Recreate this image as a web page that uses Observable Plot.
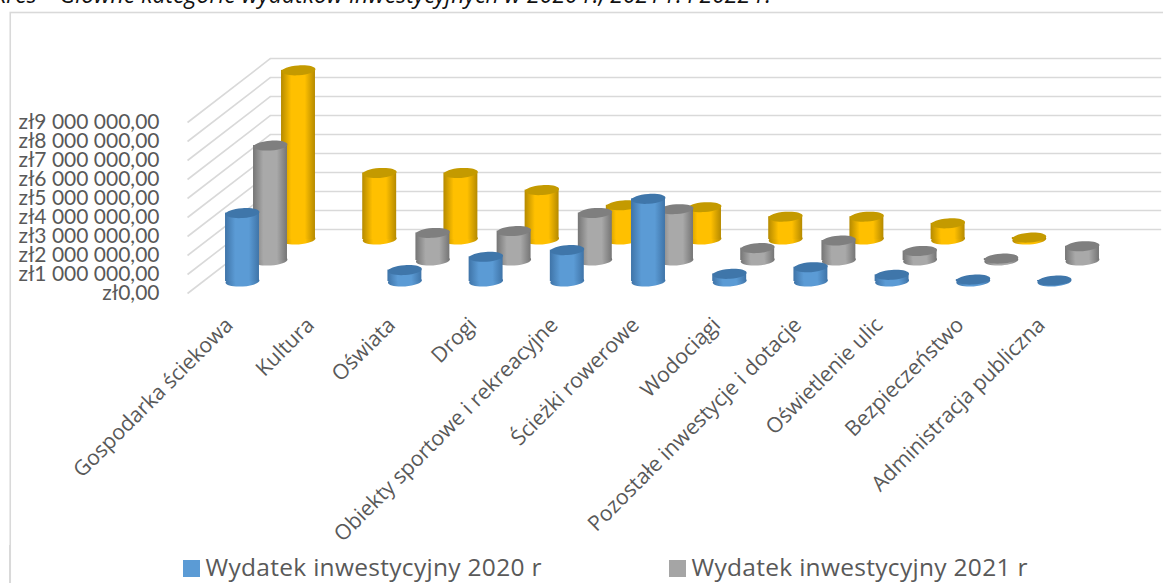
<!DOCTYPE html>
<html lang="pl"><head><meta charset="utf-8">
<script src="https://cdn.jsdelivr.net/npm/d3@7"></script>
<script src="https://cdn.jsdelivr.net/npm/@observablehq/plot@0.6"></script>
<style>
html,body{margin:0;padding:0;background:#fff;overflow:hidden;width:1163px;height:583px}
#title{position:relative;height:12px;overflow:hidden;width:1163px}
#title span{position:absolute;right:392px;top:-21px;line-height:30px;white-space:nowrap;font-family:"Open Sans",sans-serif;font-style:italic;font-size:23px;color:#111}
#chart svg{display:block}
#legend{position:relative;height:38px;margin-left:9px;border-left:1.5px solid #d9d9d9;font:24.5px "Open Sans",sans-serif;letter-spacing:.3px;color:#595959;overflow:hidden}
#legend i{position:absolute;top:15px;width:17px;height:17px}
#legend span{position:absolute;top:5px;white-space:nowrap}
</style></head><body>
<div id="title"><span>Wykres – Główne kategorie wydatków inwestycyjnych w 2020 r., 2021 r. i 2022 r.</span></div>
<div id="chart"></div>
<div id="legend"></div>
<script>
const categories = ["Gospodarka ściekowa","Kultura","Oświata","Drogi","Obiekty sportowe i rekreacyjne","Ścieżki rowerowe","Wodociągi","Pozostałe inwestycje i dotacje","Oświetlenie ulic","Bezpieczeństwo","Administracja publiczna"];
const wydatek2020 = [3600000,null,600000,1300000,1650000,4350000,400000,750000,350000,100000,50000];
const wydatek2021 = [6050000,null,1450000,1550000,2500000,2700000,650000,1050000,500000,100000,750000];
const wydatek2022 = [8900000,3500000,3500000,2600000,1800000,1700000,1200000,1200000,850000,100000,null];
const tickValues = [0,1e6,2e6,3e6,4e6,5e6,6e6,7e6,8e6,9e6];
const seriesNames = ["Wydatek inwestycyjny 2020 r","Wydatek inwestycyjny 2021 r","Wydatek inwestycyjny 2022 r"];

const fmt = d3.formatLocale({decimal:",",thousands:" ",grouping:[3],currency:["zł",""]}).format("$,.2f");

const rows = (vals) => vals.flatMap((v,i)=> v==null ? [] : [{i,v}]);

// styles of the three series: horizontal shift/lift in depth, gradient and lid colour
const styleOf = [
  {id:"g0",edge:"#3f74a8",mid:"#5b9bd5",lid:"#3f76aa",dx:0, dy:-12},
  {id:"g1",edge:"#757575",mid:"#a9a9a9",lid:"#7f7f7f",dx:28,dy:-33},
  {id:"g2",edge:"#b58a00",mid:"#ffc000",lid:"#c49a00",dx:56,dy:-54}
];

const defs = () => {
  const g = document.createElementNS("http://www.w3.org/2000/svg","g");
  g.innerHTML = "<defs>"+styleOf.map(s=>`<linearGradient id="${s.id}" x1="0" x2="1" y1="0" y2="0">
    <stop offset="0" stop-color="${s.edge}"/><stop offset=".3" stop-color="${s.mid}"/>
    <stop offset=".7" stop-color="${s.mid}"/><stop offset="1" stop-color="${s.edge}"/></linearGradient>`).join("")+"</defs>";
  return g;
};

// flattened ellipse, drawn as a dot symbol
const lens = {draw(ctx,size){
  const a=Math.sqrt(size/Math.PI), b=a*0.29, k=0.5523;
  ctx.moveTo(-a,0);
  ctx.bezierCurveTo(-a,-k*b,-k*a,-b,0,-b);
  ctx.bezierCurveTo(k*a,-b,a,-k*b,a,0);
  ctx.bezierCurveTo(a,k*b,k*a,b,0,b);
  ctx.bezierCurveTo(-k*a,b,-a,k*b,-a,0);
  ctx.closePath();
}};

const halfWidth = 0.209, radius = 17, tilt = -4;
const cylinder = (vals,s) => {
  const d = rows(vals);
  return [
    Plot.dot(d,{x:"i",y:()=>0,r:radius,symbol:lens,rotate:tilt,fill:`url(#${s.id})`,dx:s.dx,dy:s.dy}),
    Plot.rect(d,{x1:r=>r.i-halfWidth,x2:r=>r.i+halfWidth,y1:()=>0,y2:"v",fill:`url(#${s.id})`,dx:s.dx,dy:s.dy}),
    Plot.dot(d,{x:"i",y:"v",r:radius,symbol:lens,rotate:tilt,fill:s.lid,dx:s.dx,dy:s.dy})
  ];
};

const wallFront=-0.677, wallBack=0.345, wallRight=11.32, depth=3.37e6;
const gridStyle={stroke:"#d9d9d9",strokeWidth:1.6};

const chart = Plot.plot({
  width:1163, height:533, marginLeft:165, marginTop:0, marginRight:0, marginBottom:0,
  style:{background:"#fff",overflow:"visible"},
  x:{domain:[0,10],range:[242,1054],axis:null},
  y:{domain:[0,9e6],range:[281,110]},
  marks:[
    defs,
    Plot.frame({stroke:"#d9d9d9",strokeWidth:1.6,insetLeft:-155.25,insetTop:0,insetRight:-10,insetBottom:-60}),
    Plot.link(tickValues,{x1:()=>wallFront,x2:()=>wallBack,y1:d=>d,y2:d=>d+depth,...gridStyle}),
    Plot.ruleY(tickValues,{y:d=>d+depth,x1:()=>wallBack,x2:()=>wallRight,...gridStyle}),
    Plot.axisY({ticks:tickValues,tickFormat:fmt,tickSize:0,tickPadding:6,label:null,
      fontSize:21,fontFamily:"Lato, sans-serif",fill:"#595959",style:{letterSpacing:".9px"}}),
    ...cylinder(wydatek2022,styleOf[2]),
    ...cylinder(wydatek2021,styleOf[1]),
    ...cylinder(wydatek2020,styleOf[0]),
    Plot.text(categories,{x:(d,i)=>i,y:()=>0,text:d=>d,rotate:-45,textAnchor:"end",
      dx:-13,dy:28,fontSize:21.2,fontFamily:"Open Sans, sans-serif",fill:"#595959"})
  ]
});
document.getElementById("chart").append(chart);

const legend=document.getElementById("legend");
[[172.5,195.5],[658.5,681.5]].forEach(([a,b],k)=>{
  const i=document.createElement("i");i.style.left=a+"px";i.style.background=["#5b9bd5","#a5a5a5"][k];
  const t=document.createElement("span");t.style.left=b+"px";t.textContent=seriesNames[k];
  legend.append(i,t);
});
</script>
</body></html>
